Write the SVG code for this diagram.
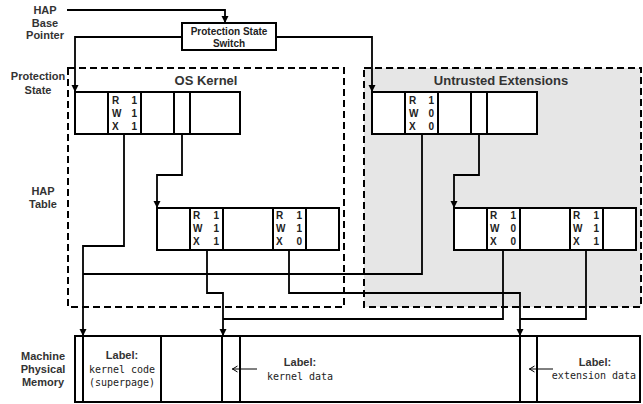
<svg xmlns="http://www.w3.org/2000/svg" width="643" height="404" viewBox="0 0 643 404">
<defs>
<marker id="ah" markerUnits="userSpaceOnUse" markerWidth="8" markerHeight="8" refX="7" refY="4" orient="auto"><path d="M0,0.5 L7,4 L0,7.5 z" fill="#000"/></marker>
<marker id="oa" markerUnits="userSpaceOnUse" markerWidth="8" markerHeight="8" refX="5.5" refY="4" orient="auto"><path d="M0,1 L5,4 L0,7" fill="none" stroke="#000" stroke-width="1"/></marker>
</defs>
<style>
.lbl{font-family:"Liberation Sans",Arial,sans-serif;font-weight:bold;font-size:11px;fill:#333;text-anchor:middle}
.ttl{font-family:"Liberation Sans",Arial,sans-serif;font-weight:bold;font-size:13px;fill:#333;text-anchor:middle}
.sw{font-family:"Liberation Sans",Arial,sans-serif;font-weight:bold;font-size:10px;fill:#222;text-anchor:middle}
.rwx{font-family:"Liberation Sans",Arial,sans-serif;font-weight:bold;font-size:10px;fill:#222}
.d{text-anchor:end}
.ml{font-family:"Liberation Sans",Arial,sans-serif;font-weight:bold;font-size:11px;fill:#333;text-anchor:middle}
.mono{font-family:"DejaVu Sans Mono","Liberation Mono",monospace;font-size:10px;fill:#222;text-anchor:middle}
.box{fill:#fff;stroke:#000;stroke-width:2}
.dash{stroke:#000;stroke-width:2;stroke-dasharray:7 4}
.cl{fill:none;stroke:#000;stroke-width:1.8}
.dv{stroke:#000;stroke-width:2}
</style>

<g id="labels">
<text class="lbl" x="45" y="14">HAP</text>
<text class="lbl" x="45" y="27">Base</text>
<text class="lbl" x="45" y="39">Pointer</text>
<text class="lbl" x="38" y="80">Protection</text>
<text class="lbl" x="38" y="94">State</text>
<text class="lbl" x="43" y="195">HAP</text>
<text class="lbl" x="43" y="208">Table</text>
<text class="lbl" x="43" y="360">Machine</text>
<text class="lbl" x="43" y="373">Physical</text>
<text class="lbl" x="43" y="386">Memory</text>
</g>

<g id="os-kernel">
<rect x="68" y="68" width="276" height="239" fill="none" class="dash"/>
<text class="ttl" x="206" y="85">OS Kernel</text>
</g>

<g id="untrusted-extensions">
<rect x="364" y="68" width="277" height="239" fill="#e6e6e6" class="dash"/>
<text class="ttl" x="501" y="85">Untrusted Extensions</text>
</g>

<g id="switch">
<rect class="box" x="182" y="23" width="94" height="27"/>
<text class="sw" x="229" y="35">Protection State</text>
<text class="sw" x="229" y="47">Switch</text>
</g>

<g id="kernel-ps">
<rect class="box" x="75" y="92" width="165" height="42"/>
<path class="dv" d="M108,92V134M141,92V134M174,92V134M190,92V134"/>
<text class="rwx" x="112" y="104">R</text><text class="rwx d" x="137" y="104">1</text>
<text class="rwx" x="112" y="117">W</text><text class="rwx d" x="137" y="117">1</text>
<text class="rwx" x="112" y="130">X</text><text class="rwx d" x="137" y="130">1</text>
</g>

<g id="ext-ps">
<rect class="box" x="372" y="92" width="165" height="42"/>
<path class="dv" d="M405,92V134M438,92V134M471,92V134M487,92V134"/>
<text class="rwx" x="409" y="104">R</text><text class="rwx d" x="434" y="104">1</text>
<text class="rwx" x="409" y="117">W</text><text class="rwx d" x="434" y="117">0</text>
<text class="rwx" x="409" y="130">X</text><text class="rwx d" x="434" y="130">0</text>
</g>

<g id="kernel-hap">
<rect class="box" x="157" y="208" width="182" height="42"/>
<path class="dv" d="M190,208V250M223,208V250M273,208V250M306,208V250"/>
<text class="rwx" x="193" y="219">R</text><text class="rwx d" x="219" y="219">1</text>
<text class="rwx" x="193" y="232">W</text><text class="rwx d" x="219" y="232">1</text>
<text class="rwx" x="193" y="245">X</text><text class="rwx d" x="219" y="245">1</text>
<text class="rwx" x="276" y="219">R</text><text class="rwx d" x="302" y="219">1</text>
<text class="rwx" x="276" y="232">W</text><text class="rwx d" x="302" y="232">1</text>
<text class="rwx" x="276" y="245">X</text><text class="rwx d" x="302" y="245">0</text>
</g>

<g id="ext-hap">
<rect class="box" x="454" y="208" width="182" height="42"/>
<path class="dv" d="M487,208V250M520,208V250M570,208V250M603,208V250"/>
<text class="rwx" x="490" y="219">R</text><text class="rwx d" x="516" y="219">1</text>
<text class="rwx" x="490" y="232">W</text><text class="rwx d" x="516" y="232">0</text>
<text class="rwx" x="490" y="245">X</text><text class="rwx d" x="516" y="245">0</text>
<text class="rwx" x="573" y="219">R</text><text class="rwx d" x="599" y="219">1</text>
<text class="rwx" x="573" y="232">W</text><text class="rwx d" x="599" y="232">1</text>
<text class="rwx" x="573" y="245">X</text><text class="rwx d" x="599" y="245">1</text>
</g>

<g id="memory">
<rect class="box" x="75" y="336" width="565" height="66"/>
<path class="dv" d="M83,336V402M161,336V402M222,336V402M240,336V402M520,336V402M537,336V402"/>
<text class="ml" x="122" y="359">Label:</text>
<text class="mono" x="122" y="373">kernel code</text>
<text class="mono" x="122" y="386">(superpage)</text>
<text class="ml" x="300" y="366">Label:</text>
<text class="mono" x="300" y="380">kernel data</text>
<text class="ml" x="595" y="366">Label:</text>
<text class="mono" x="594" y="379">extension data</text>
</g>

<g id="connectors">
<polyline class="cl" points="67,10 225,10 225,23" marker-end="url(#ah)"/>
<polyline class="cl" points="182,37 75,37 75,92" marker-end="url(#ah)"/>
<polyline class="cl" points="276,37 372,37 372,92" marker-end="url(#ah)"/>
<polyline class="cl" points="182,134 182,175 157,175 157,208" marker-end="url(#ah)"/>
<polyline class="cl" points="479,134 479,175 454,175 454,208" marker-end="url(#ah)"/>
<polyline class="cl" points="124,134 124,246 83,246 83,336" marker-end="url(#ah)"/>
<polyline class="cl" points="422,134 422,274 83,274"/>
<polyline class="cl" points="207,250 207,293 223,293 223,336" marker-end="url(#ah)"/>
<polyline class="cl" points="289,250 289,293 520,293 520,336" marker-end="url(#ah)"/>
<polyline class="cl" points="503,250 503,319 223,319"/>
<polyline class="cl" points="586,250 586,319 520,319"/>
<line x1="257" y1="369" x2="232" y2="369" stroke="#000" stroke-width="1" marker-end="url(#oa)"/>
<line x1="553" y1="369" x2="529" y2="369" stroke="#000" stroke-width="1" marker-end="url(#oa)"/>
</g>
</svg>
